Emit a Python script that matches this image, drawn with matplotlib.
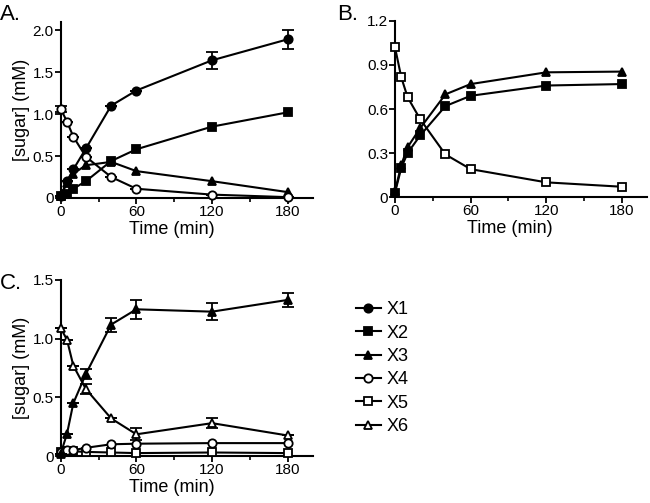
import matplotlib
matplotlib.use('Agg')
import matplotlib.pyplot as plt
from matplotlib.lines import Line2D
import numpy as np

plt.rcParams['font.family'] = ['Liberation Sans', 'DejaVu Sans']

t = [0, 5, 10, 20, 40, 60, 120, 180]

# panel A
a_x1 = [0.02, 0.20, 0.34, 0.59, 1.10, 1.28, 1.64, 1.89]
a_x1_err = [0, 0, 0, 0, 0, 0, 0.10, 0.11]
a_x2 = [0.02, 0.05, 0.11, 0.20, 0.44, 0.58, 0.85, 1.02]
a_x3 = [0.02, 0.18, 0.29, 0.39, 0.43, 0.32, 0.20, 0.07]
a_x4 = [1.06, 0.91, 0.73, 0.49, 0.25, 0.11, 0.04, 0.01]
a_x4_err = [0.04, 0, 0, 0, 0, 0, 0, 0]

# panel B
b_x2 = [0.03, 0.20, 0.30, 0.42, 0.62, 0.69, 0.76, 0.77]
b_x3 = [0.04, 0.22, 0.34, 0.47, 0.70, 0.77, 0.85, 0.855]
b_x5 = [1.02, 0.815, 0.68, 0.53, 0.29, 0.19, 0.10, 0.07]

# panel C
c_x3 = [0.02, 0.19, 0.45, 0.70, 1.12, 1.25, 1.23, 1.33]
c_x3_err = [0, 0, 0, 0.04, 0.06, 0.08, 0.07, 0.06]
c_x4 = [0.03, 0.05, 0.05, 0.07, 0.10, 0.105, 0.11, 0.11]
c_x5 = [0.03, 0.04, 0.04, 0.035, 0.03, 0.025, 0.03, 0.025]
c_x6 = [1.09, 0.99, 0.77, 0.57, 0.32, 0.185, 0.28, 0.175]
c_x6_err = [0, 0, 0, 0.04, 0, 0.05, 0.04, 0]

labels = ['X1', 'X2', 'X3', 'X4', 'X5', 'X6']
markers = ['o', 's', '^', 'o', 's', '^']
filled = [True, True, True, False, False, False]


def style(i):
    return dict(color='black', lw=1.5, marker=markers[i], ms=6, mew=1.3,
                mfc='black' if filled[i] else 'white', mec='black')


def draw(ax, i, y, err=None):
    if err is None:
        ax.plot(t, y, clip_on=False, zorder=3, **style(i))
    else:
        ax.errorbar(t, y, yerr=err, capsize=4, elinewidth=1.3, capthick=1.3,
                    clip_on=False, zorder=3, **style(i))


def setup(ax, ymax, yticks, yticklabels, ylabel=True, xlab_x=0.44):
    ax.set_xlim(0, 200)
    ax.set_ylim(0, ymax)
    ax.set_xticks([0, 60, 120, 180])
    ax.set_xticks([30, 90, 150], minor=True)
    ax.set_yticks(yticks)
    ax.set_yticklabels(yticklabels)
    for s in ['top', 'right']:
        ax.spines[s].set_visible(False)
    for s in ['left', 'bottom']:
        ax.spines[s].set_linewidth(1.5)
    ax.tick_params(which='major', length=4, width=1.3, labelsize=11, pad=1)
    ax.tick_params(which='minor', length=3, width=1.2)
    ax.set_xlabel('Time (min)', fontsize=13, labelpad=0)
    ax.xaxis.set_label_coords(xlab_x, -0.128)
    if ylabel:
        ax.set_ylabel('[sugar] (mM)', fontsize=13, labelpad=2)


fig = plt.figure(figsize=(6.5, 5.03), dpi=100)

axA = fig.add_axes([0.0934, 0.6064, 0.388, 0.3505])
draw(axA, 3, a_x4, a_x4_err)
draw(axA, 2, a_x3)
draw(axA, 1, a_x2)
draw(axA, 0, a_x1, a_x1_err)
setup(axA, 2.1, [0, 0.5, 1.0, 1.5, 2.0], ['0', '0.5', '1.0', '1.5', '2.0'])

axB = fig.add_axes([0.6077, 0.6083, 0.388, 0.35])
draw(axB, 4, b_x5)
draw(axB, 1, b_x2)
draw(axB, 2, b_x3)
setup(axB, 1.2, [0, 0.3, 0.6, 0.9, 1.2], ['0', '0.3', '0.6', '0.9', '1.2'],
      ylabel=False, xlab_x=0.455)

axC = fig.add_axes([0.0934, 0.0934, 0.388, 0.35])
draw(axC, 4, c_x5)
draw(axC, 3, c_x4)
draw(axC, 5, c_x6, c_x6_err)
draw(axC, 2, c_x3, c_x3_err)
setup(axC, 1.5, [0, 0.5, 1.0, 1.5], ['0', '0.5', '1.0', '1.5'])

fig.text(0.0, 0.992, 'A.', fontsize=16, va='top', ha='left')
fig.text(0.518, 0.992, 'B.', fontsize=16, va='top', ha='left')
fig.text(0.0, 0.457, 'C.', fontsize=16, va='top', ha='left')

handles = [Line2D([], [], **style(i)) for i in range(6)]
fig.legend(handles, labels, loc='upper left', bbox_to_anchor=(0.548, 0.401),
           frameon=False, fontsize=13, handlelength=1.35, handletextpad=0.35,
           labelspacing=0.35, borderaxespad=0, borderpad=0)

fig.savefig('out.png', dpi=100)
